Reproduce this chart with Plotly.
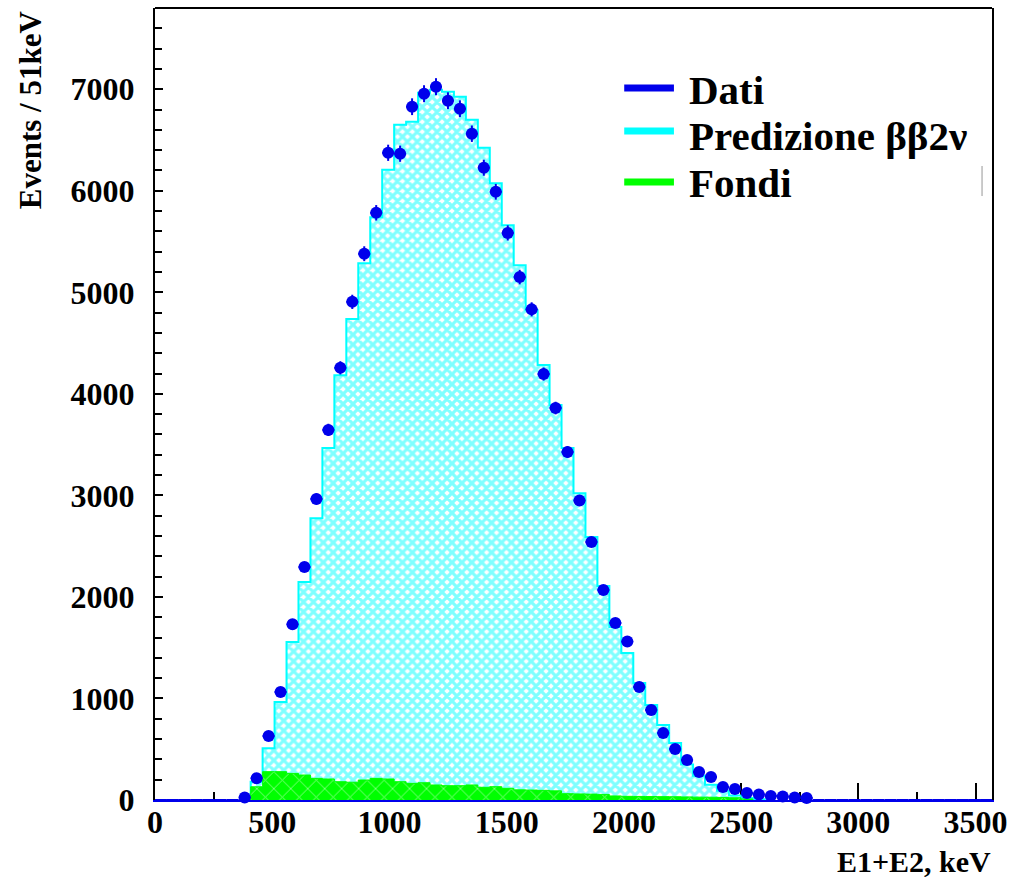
import numpy as np
import plotly.graph_objects as go

# Binning: 70 bins of 51 keV from 0 to 3570 keV
BIN_WIDTH = 51
N_BINS = 70

# Measured spectrum (events per bin), bins 7..54 are non-zero
dati_first_bin = 7
dati_vals = [25, 215, 630, 1064, 1730, 2294, 2965, 3645, 4256, 4906,
             5380, 5783, 6374, 6365, 6828, 6956, 7025, 6887, 6808, 6562,
             6227, 5990, 5585, 5150, 4832, 4195, 3860, 3427, 2950, 2542,
             2069, 1744, 1560, 1113, 887, 660, 502, 394, 276, 227,
             128, 108, 69, 55, 40, 35, 25, 20]

# Simulated 2nu double-beta prediction, bins 8..50
pred_first_bin = 8
pred_vals = [180, 510, 966, 1556, 2146, 2776, 3466, 4184, 4736, 5287,
             5740, 6207, 6650, 6680, 6966, 6995, 6975, 6926, 6700, 6424,
             6075, 5661, 5267, 4824, 4283, 3889, 3466, 3022, 2589, 2107,
             1703, 1447, 1152, 935, 738, 561, 350, 240, 150, 90,
             45, 20, 8]

# Background estimate, bins 8..49
fondi_first_bin = 8
fondi_vals = [130, 279, 279, 262, 246, 213, 207, 180, 175, 197,
              213, 207, 180, 164, 170, 148, 141, 141, 148, 125,
              131, 115, 100, 98, 95, 90, 62, 60, 58, 55,
              40, 36, 35, 34, 33, 32, 30, 28, 27, 25,
              22, 10]

legend_labels = ["Dati", "Predizione \u03b2\u03b22\u03bd", "Fondi"]
x_title = "E1+E2, keV"
y_title = "Events / 51keV"

BLUE = "rgb(0,0,235)"
CYAN = "rgb(0,255,255)"
GREEN = "rgb(0,255,0)"
FONT = "Liberation Serif"


def full_hist(first_bin, vals):
    h = np.zeros(N_BINS)
    h[first_bin:first_bin + len(vals)] = vals
    return h


def step_xy(h):
    nz = np.nonzero(h)[0]
    lo, hi = nz[0], nz[-1] + 1
    edges = np.arange(lo, hi + 1) * BIN_WIDTH
    y = np.append(h[lo:hi], h[hi - 1])
    # close the outline down to zero at both ends
    x = np.concatenate([[edges[0]], edges, [edges[-1]]])
    y = np.concatenate([[0], y, [0]])
    return x, y


dati = full_hist(dati_first_bin, dati_vals)
pred = full_hist(pred_first_bin, pred_vals)
fondi = full_hist(fondi_first_bin, fondi_vals)
centers = (np.arange(N_BINS) + 0.5) * BIN_WIDTH

fig = go.Figure()

px_, py_ = step_xy(pred)
fig.add_trace(go.Scatter(
    x=px_, y=py_, mode="lines", line=dict(color=CYAN, width=2, shape="hv"),
    fill="tozeroy", fillcolor="rgba(0,0,0,0)",
    fillpattern=dict(shape="x", fgcolor=CYAN, bgcolor="white", size=7, solidity=0.7),
    name=legend_labels[1], showlegend=False, hoverinfo="skip"))

fx_, fy_ = step_xy(fondi)
fig.add_trace(go.Scatter(
    x=fx_, y=fy_, mode="lines", line=dict(color=GREEN, width=1, shape="hv"),
    fill="tozeroy", fillcolor="rgba(0,0,0,0)",
    fillpattern=dict(shape="x", fgcolor="white", bgcolor=GREEN, size=12, solidity=0.15),
    name=legend_labels[2], showlegend=False, hoverinfo="skip"))

fig.add_trace(go.Scatter(
    x=centers, y=dati, mode="markers",
    marker=dict(color=BLUE, opacity=1, size=[12 if v > 0 else 0 for v in dati],
                line=dict(width=0)),
    error_y=dict(type="data", array=np.sqrt(dati), color=BLUE, thickness=2, width=0),
    error_x=dict(type="constant", value=BIN_WIDTH / 2, color=BLUE, thickness=2, width=0),
    name=legend_labels[0], showlegend=False, cliponaxis=False))

# Legend drawn by hand: thick colour bars and bold serif labels
legend_rows = [(0.899, BLUE), (0.8447, CYAN), (0.7803, GREEN)]
text_rows = [0.8965, 0.8385, 0.7790]
for (yy, col), ty, lab in zip(legend_rows, text_rows, legend_labels):
    fig.add_shape(type="line", xref="paper", yref="paper",
                  x0=0.5606, x1=0.6200, y0=yy, y1=yy,
                  line=dict(color=col, width=7))
    fig.add_annotation(x=0.6354, y=ty, xref="paper", yref="paper",
                       text=lab, showarrow=False, xanchor="left", yanchor="middle",
                       font=dict(family=FONT, size=41, color="black", weight="bold"))

# fragment of the legend box border
fig.add_shape(type="line", xref="paper", yref="paper",
              x0=0.9881, x1=0.9881, y0=0.7626, y1=0.8005,
              line=dict(color="rgb(150,150,150)", width=1))

# top frame line
fig.add_shape(type="line", xref="paper", yref="paper", x0=0, x1=1, y0=1, y1=1,
              line=dict(color="black", width=2))

fig.add_annotation(x=-0.1485, y=1.0, xref="paper", yref="paper", text=y_title,
                   textangle=-90, showarrow=False, xanchor="center", yanchor="top",
                   font=dict(family=FONT, size=31, color="black", weight="bold"))
fig.add_annotation(x=1.0, y=-0.0775, xref="paper", yref="paper", text=x_title,
                   showarrow=False, xanchor="right", yanchor="middle", borderpad=0,
                   font=dict(family=FONT, size=30, color="black", weight="bold"))

tickfont = dict(family=FONT, size=32, color="black", weight="bold")
fig.update_xaxes(range=[0, N_BINS * BIN_WIDTH], showgrid=False, zeroline=False,
                 showline=True, linecolor=BLUE, linewidth=2, mirror=False,
                 ticks="inside", tickcolor="black", tickwidth=2, ticklen=17,
                 tick0=0, dtick=500, tickfont=tickfont, ticklabelstandoff=-7,
                 minor=dict(ticks="inside", dtick=250, ticklen=8, tickwidth=2, tickcolor="black"),
                 layer="below traces")
fig.update_yaxes(range=[0, 7800], showgrid=False, zeroline=False,
                 showline=True, linecolor="black", linewidth=2, mirror=True,
                 ticks="inside", tickcolor="black", tickwidth=2, ticklen=8,
                 tick0=0, dtick=1000, tickfont=tickfont, ticklabelstandoff=12,
                 minor=dict(ticks="inside", dtick=200, ticklen=7, tickwidth=2, tickcolor="black"),
                 layer="below traces")

fig.update_layout(width=1015, height=879,
                  margin=dict(l=155, r=18, t=8, b=79),
                  paper_bgcolor="white", plot_bgcolor="white",
                  showlegend=False)

fig.write_html("out.html")
